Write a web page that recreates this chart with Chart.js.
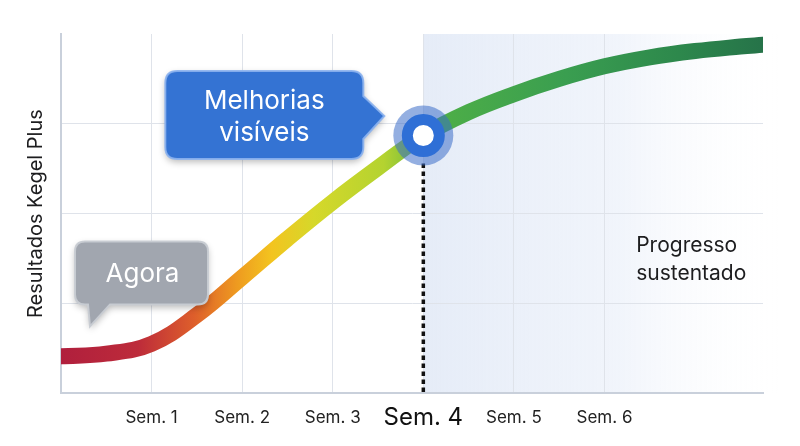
<!DOCTYPE html>
<html><head><meta charset="utf-8">
<script src="https://cdn.jsdelivr.net/npm/chart.js@4.4.1/dist/chart.umd.min.js"></script>
<style>html,body{margin:0;padding:0;background:#fff}#wrap{width:800px;height:446px}</style>
</head><body><div id="wrap"><canvas id="c"></canvas></div>
<script>
const FONT = "Inter, 'Noto Sans', 'Liberation Sans', sans-serif";
const weekTicks = [1, 2, 3, 4, 5, 6];
const weekLabels = ["Sem. 1", "Sem. 2", "Sem. 3", "Sem. 4", "Sem. 5", "Sem. 6"];
const valueGrid = [1, 2, 3];
const curveX = [0, 0.5, 1, 1.5, 2, 2.5, 3, 3.5, 4, 4.5, 5, 5.5, 6, 6.5, 7, 7.5, 7.75];
const curveY = [0.41, 0.44, 0.55, 0.87, 1.29, 1.72, 2.13, 2.51, 2.87, 3.13, 3.33, 3.50, 3.64, 3.74, 3.81, 3.86, 3.88];
const highlightWeek = 4;
const highlightValue = curveY[curveX.indexOf(highlightWeek)];
const nowLabel = ["Agora"];
const betterLabel = ["Melhorias", "visíveis"];
const sustainedLabel = ["Progresso", "sustentado"];
const sustainedAt = [6.35, 1.49];
const yTitle = "Resultados Kegel Plus";

const curveData = curveX.map((x, i) => ({ x: x, y: curveY[i] }));
const pointData = [{ x: highlightWeek, y: highlightValue }];

function lineGradient(ctx) {
  const chart = ctx.chart, a = chart.chartArea;
  if (!a) return '#b3203c';
  const g = chart.ctx.createLinearGradient(a.left, 0, a.right, 0);
  g.addColorStop(0.00, '#b01f3d');
  g.addColorStop(0.11, '#bd2b3a');
  g.addColorStop(0.19, '#de5f2b');
  g.addColorStop(0.25, '#ee9a20');
  g.addColorStop(0.30, '#f3c41f');
  g.addColorStop(0.36, '#d6d82a');
  g.addColorStop(0.46, '#b4d330');
  g.addColorStop(0.54, '#4dae47');
  g.addColorStop(0.72, '#3a9e50');
  g.addColorStop(0.88, '#2d884c');
  g.addColorStop(1.00, '#267349');
  return g;
}

const shadePlugin = {
  id: 'shade',
  beforeDraw(chart) {
    const a = chart.chartArea, xs = chart.scales.x, c = chart.ctx;
    const x0 = xs.getPixelForValue(highlightWeek);
    c.save();
    const g = c.createLinearGradient(x0, 0, a.right + 15, 0);
    g.addColorStop(0, 'rgba(228,235,247,0.95)');
    g.addColorStop(0.55, 'rgba(236,241,250,0.75)');
    g.addColorStop(1, 'rgba(255,255,255,0)');
    c.fillStyle = g;
    c.fillRect(x0, a.top, a.right + 15 - x0, a.bottom - a.top);
    c.restore();
  },
  beforeDatasetsDraw(chart) {
    const a = chart.chartArea, xs = chart.scales.x, ys = chart.scales.y, c = chart.ctx;
    const px = xs.getPixelForValue(highlightWeek), py = ys.getPixelForValue(highlightValue);
    c.save();
    c.strokeStyle = '#111';
    c.lineWidth = 3.5;
    c.setLineDash([4.5, 3.5]);
    c.beginPath();
    c.moveTo(px, py + 28);
    c.lineTo(px, a.bottom);
    c.stroke();
    c.restore();
  },
  afterDatasetsDraw(chart) {
    const xs = chart.scales.x, ys = chart.scales.y, c = chart.ctx;
    const px = xs.getPixelForValue(highlightWeek), py = ys.getPixelForValue(highlightValue);
    c.save();
    let bx = px - 258, by = py - 64.5, bw = 198, bh = 88, r = 12;
    c.beginPath();
    c.moveTo(bx + r, by);
    c.lineTo(bx + bw - r, by); c.quadraticCurveTo(bx + bw, by, bx + bw, by + r);
    c.lineTo(bx + bw, by + 25);
    c.lineTo(px - 39, py - 19.5);
    c.lineTo(bx + bw, by + 68);
    c.lineTo(bx + bw, by + bh - r); c.quadraticCurveTo(bx + bw, by + bh, bx + bw - r, by + bh);
    c.lineTo(bx + r, by + bh); c.quadraticCurveTo(bx, by + bh, bx, by + bh - r);
    c.lineTo(bx, by + r); c.quadraticCurveTo(bx, by, bx + r, by);
    c.closePath();
    c.shadowColor = 'rgba(0,0,0,0.28)'; c.shadowBlur = 7; c.shadowOffsetY = 3;
    c.fillStyle = '#3473d3';
    c.fill();
    c.shadowColor = 'transparent';
    c.lineWidth = 2; c.strokeStyle = 'rgba(140,178,238,0.9)';
    c.stroke();
    c.fillStyle = '#fff';
    c.font = '26px ' + FONT;
    c.textAlign = 'center'; c.textBaseline = 'middle';
    c.fillText(betterLabel[0], bx + bw / 2, by + 30);
    c.fillText(betterLabel[1], bx + bw / 2, by + 62);
    c.restore();

    const sx = xs.getPixelForValue(curveX[0]), sy = ys.getPixelForValue(curveY[0]);
    c.save();
    bx = sx + 14; by = sy - 115; bw = 133; bh = 63; r = 10;
    c.beginPath();
    c.moveTo(bx + r, by);
    c.lineTo(bx + bw - r, by); c.quadraticCurveTo(bx + bw, by, bx + bw, by + r);
    c.lineTo(bx + bw, by + bh - r); c.quadraticCurveTo(bx + bw, by + bh, bx + bw - r, by + bh);
    c.lineTo(bx + 35, by + bh);
    c.lineTo(sx + 29, sy - 30);
    c.lineTo(bx + 13, by + bh);
    c.lineTo(bx + r, by + bh); c.quadraticCurveTo(bx, by + bh, bx, by + bh - r);
    c.lineTo(bx, by + r); c.quadraticCurveTo(bx, by, bx + r, by);
    c.closePath();
    c.shadowColor = 'rgba(0,0,0,0.28)'; c.shadowBlur = 7; c.shadowOffsetY = 3;
    c.fillStyle = '#a1a6af';
    c.fill();
    c.shadowColor = 'transparent';
    c.lineWidth = 2; c.strokeStyle = 'rgba(200,204,211,0.95)';
    c.stroke();
    c.fillStyle = '#fff';
    c.font = '26px ' + FONT;
    c.textAlign = 'center'; c.textBaseline = 'middle';
    c.fillText(nowLabel[0], bx + bw / 2 + 1, by + 33);
    c.restore();

    c.save();
    c.fillStyle = '#1d1d1f';
    c.font = '21px ' + FONT;
    c.textAlign = 'left'; c.textBaseline = 'middle';
    const tx = xs.getPixelForValue(sustainedAt[0]), ty = ys.getPixelForValue(sustainedAt[1]);
    c.fillText(sustainedLabel[0], tx, ty - 14);
    c.fillText(sustainedLabel[1], tx, ty + 14);
    c.restore();
  }
};

new Chart(document.getElementById('c'), {
  type: 'scatter',
  data: {
    datasets: [
      { data: pointData, order: 0, pointRadius: 16, pointBorderWidth: 11, pointBackgroundColor: '#ffffff', pointBorderColor: '#2f6fd6', showLine: false },
      { data: pointData, order: 1, pointRadius: 30, pointBorderWidth: 0, pointBackgroundColor: 'rgba(60,110,200,0.55)', showLine: false },
      { data: curveData, order: 2, showLine: true, borderColor: lineGradient, borderWidth: 16, borderCapStyle: 'round', borderJoinStyle: 'round', tension: 0.4, pointRadius: 0 }
    ]
  },
  options: {
    responsive: true,
    maintainAspectRatio: false,
    animation: false,
    events: [],
    layout: { padding: { left: 24, right: 37, top: 34, bottom: 4 } },
    plugins: { legend: { display: false }, tooltip: { enabled: false } },
    scales: {
      x: {
        type: 'linear', min: 0, max: 7.75,
        afterBuildTicks(axis) { axis.ticks = weekTicks.map(v => ({ value: v })); },
        ticks: {
          padding: 10,
          maxRotation: 0,
          autoSkip: false,
          color: ctx => (ctx.tick && ctx.tick.value === highlightWeek) ? '#111111' : '#222222',
          font: ctx => (ctx.tick && ctx.tick.value === highlightWeek)
            ? { family: FONT, size: 24, lineHeight: 1.2 }
            : { family: FONT, size: 17, lineHeight: 1.694 },
          callback: v => weekLabels[weekTicks.indexOf(v)]
        },
        grid: { color: '#dfe3ea', lineWidth: 1, drawTicks: false },
        border: { color: '#c9d0db', width: 2 }
      },
      y: {
        min: 0, max: 4,
        afterBuildTicks(axis) { axis.ticks = valueGrid.map(v => ({ value: v })); },
        ticks: { display: false },
        grid: { color: '#dfe3ea', lineWidth: 1, drawTicks: false },
        border: { color: '#c9d0db', width: 2 },
        title: { display: true, text: yTitle, color: '#1d1d1f', font: { family: FONT, size: 20 }, padding: { top: 0, bottom: 13 } }
      }
    }
  },
  plugins: [shadePlugin]
});
</script>
</body></html>
